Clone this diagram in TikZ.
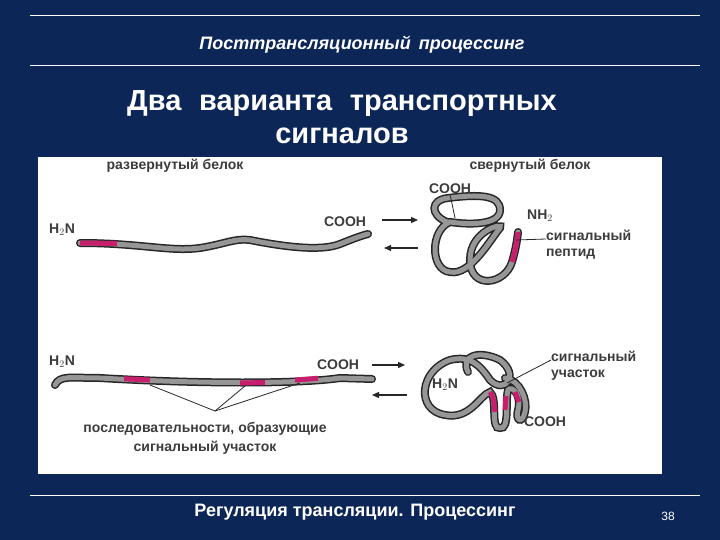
\documentclass[tikz,border=0pt]{standalone}
\usepackage{fontspec}
\setmainfont{Liberation Sans}
\usetikzlibrary{arrows.meta}
\definecolor{navy}{RGB}{12,38,88}
\definecolor{tubeg}{RGB}{150,150,150}
\definecolor{pinkc}{RGB}{200,30,110}
\definecolor{txtg}{RGB}{60,60,60}
\tikzset{
  tubeo/.style={line width=8pt,black!85,line cap=round},
  tubei/.style={line width=5pt,tubeg,line cap=round},
  pinkseg/.style={line width=5pt,pinkc},
  lbl/.style={font=\bfseries\fontsize{14}{16}\selectfont,text=txtg,inner sep=0pt,align=center},
  arr/.style={-{Triangle[length=7pt,width=6pt]},line width=1.3pt,black!85},
  ptr/.style={black!85,line width=0.8pt},
  wt/.style={text=white,inner sep=0pt}
}
\begin{document}
\begin{tikzpicture}[x=1pt,y=-1pt]
\fill[navy] (0,0) rectangle (720,540);
\useasboundingbox (0,0) rectangle (720,540);
\draw[white,line width=0.6pt] (30,15) -- (700,15);
\draw[white,line width=0.6pt] (30,65) -- (700,65);
\node[wt,font=\bfseries\itshape\fontsize{18}{20}\selectfont] (title) at (362,45) {Посттрансляционный\, процессинг};
\node[wt,font=\bfseries\fontsize{29}{33}\selectfont,align=center] (head) at (342,117) {Два\,\, варианта\,\, транспортных\\сигналов};
\fill[white] (38,157) rectangle (662,474);
\draw[white,line width=0.6pt] (30,495) -- (700,495);
\node[wt,font=\bfseries\fontsize{18}{20}\selectfont] (foot) at (355,512) {Регуляция трансляции. Процессинг};
\node[wt,font=\fontsize{12}{14}\selectfont] (num) at (668,516) {38};
% top labels
\node[lbl] (unf) at (175,166) {развернутый белок};
\node[lbl] (fol) at (530,166) {свернутый белок};
% top unfolded strand
\def\topstrand{(80,243) .. controls (140,243) and (170,252) .. (200,248) .. controls (225,244) and (235,238) .. (250,240) .. controls (280,246) and (320,252) .. (340,244) .. controls (350,240) and (360,236) .. (368,234)}
\draw[tubeo] \topstrand; \draw[tubei] \topstrand;
\draw[pinkseg] (80,243) -- (117,243.5);
\node[lbl] (h2na) at (62,230) {H$_2$N};
\node[lbl] (cooha) at (345,222) {COOH};
\coordinate (a1) at (382,220); \coordinate (a2) at (418,220);
\coordinate (a3) at (418,248); \coordinate (a4) at (384,248);
\draw[arr] (a1) -- (a2); \draw[arr] (a3) -- (a4);
% top folded
\def\fa{(447,222) .. controls (430,215) and (430,200) .. (448,198) .. controls (480,194) and (500,195) .. (500,210) .. controls (500,225) and (470,225) .. (450,222) .. controls (430,230) and (430,270) .. (450,272) .. controls (470,276) and (490,240) .. (500,228) .. controls (505,222) and (470,230) .. (470,260) .. controls (470,290) and (505,285) .. (512,262) .. controls (515,252) and (517,242) .. (518,232)}
\draw[tubeo] \fa; \draw[tubei] \fa;
\draw[pinkseg] (512,262) .. controls (515,252) and (517,242) .. (518,232);
\node[lbl] (coohb) at (450,189) {COOH};
\node[lbl] (nh2) at (540,216) {NH$_2$};
\node[lbl,align=left,anchor=west] (sp) at (546,245) {сигнальный\\пептид};
\coordinate (pk1) at (516,240);
\draw[ptr] (pk1) -- (546,239);
\draw[ptr] (coohb.south) -- (455,218);
% bottom unfolded strand
\def\botstrand{(55,385) .. controls (60,375) and (70,378) .. (100,378) .. controls (200,384) and (300,384) .. (340,378) -- (372,379)}
\draw[tubeo] \botstrand; \draw[tubei] \botstrand;
\draw[pinkseg] (124,378.8) -- (150,380);
\draw[pinkseg] (240,383) -- (265,382.5);
\draw[pinkseg] (295,380) -- (318,378.3);
\node[lbl] (h2nc) at (62,362) {H$_2$N};
\node[lbl] (coohc) at (338,365) {COOH};
\coordinate (v) at (215,411);
\coordinate (s1) at (150,385); \coordinate (s2) at (245,386); \coordinate (s3) at (300,383);
\draw[ptr] (v) -- (s1); \draw[ptr] (v) -- (s2); \draw[ptr] (v) -- (s3);
\node[lbl] (seq) at (205,438) {последовательности, образующие\\[3pt]сигнальный участок};
\coordinate (b1) at (372,365); \coordinate (b2) at (405,365);
\coordinate (b3) at (407,395); \coordinate (b4) at (372,395);
\draw[arr] (b1) -- (b2); \draw[arr] (b3) -- (b4);
% bottom folded
\def\fb{(468,372) .. controls (460,355) and (480,350) .. (500,360) .. controls (520,375) and (505,395) .. (490,380) .. controls (480,365) and (470,355) .. (450,360) .. controls (420,370) and (415,410) .. (445,415) .. controls (470,420) and (480,395) .. (490,392) .. controls (498,398) and (490,430) .. (500,428) .. controls (510,430) and (505,400) .. (508,390) .. controls (512,385) and (522,395) .. (518,410) .. controls (515,420) and (522,425) .. (525,412) .. controls (528,400) and (520,380) .. (505,378)}
\draw[tubeo] \fb; \draw[tubei] \fb;
\draw[pinkseg] (490,392) .. controls (494,396) and (494,405) .. (495,412);
\draw[pinkseg] (506,396) -- (505,410);
\draw[pinkseg] (515,392) -- (519,402);
\node[lbl] (h2nd) at (445,385) {H$_2$N};
\node[lbl] (coohd) at (545,422) {COOH};
\node[lbl,align=left,anchor=west] (su) at (551,366) {сигнальный\\участок};
\coordinate (pk2) at (507,383);
\draw[ptr] (pk2) -- (551,360);
\end{tikzpicture}
\end{document}
